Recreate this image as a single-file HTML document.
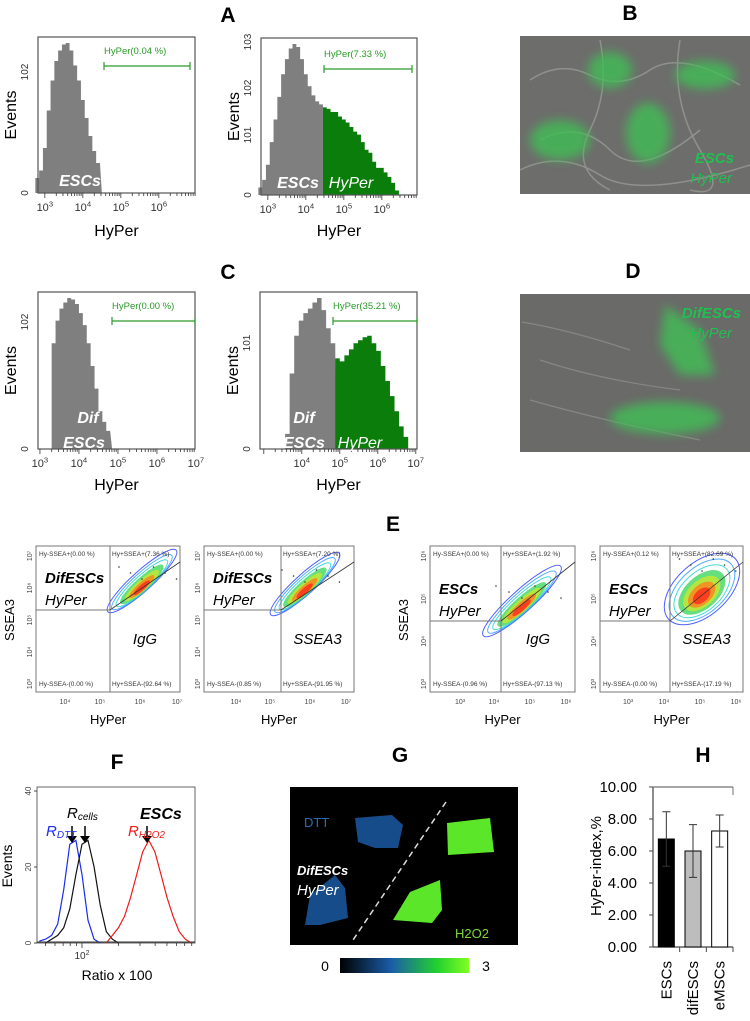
<!DOCTYPE html>
<html><head><meta charset="utf-8">
<style>
html,body{margin:0;padding:0;background:#fff;}
svg{display:block;font-family:"Liberation Sans",sans-serif;}
</style></head>
<body>
<svg id="fig" width="750" height="1021" viewBox="0 0 750 1021" xmlns="http://www.w3.org/2000/svg">
<defs>
<filter id="blur4"><feGaussianBlur stdDeviation="5"/></filter>
<linearGradient id="cbar" x1="0" x2="1" y1="0" y2="0">
<stop offset="0" stop-color="#000"/><stop offset="0.4" stop-color="#1a5ea8"/><stop offset="0.75" stop-color="#22d030"/><stop offset="1" stop-color="#80ff20"/>
</linearGradient>
</defs>

<g font-weight="bold" font-size="21" text-anchor="middle" fill="#000">
<text x="228" y="22">A</text>
<text x="630" y="20">B</text>
<text x="228" y="279">C</text>
<text x="633" y="278">D</text>
<text x="393" y="531">E</text>
<text x="117" y="769">F</text>
<text x="400" y="762">G</text>
<text x="703" y="762">H</text>
</g>

<g id="hists"></g>

<g>
<rect x="520" y="36" width="230" height="158" fill="#6d6d6b"/>
<g stroke="#a0a09c" stroke-width="1.5" fill="none" opacity="0.7">
<path d="M530 80 Q560 60 590 75 T650 70 T740 85"/><path d="M540 140 Q580 120 610 150 T700 130"/>
<path d="M600 40 Q610 90 590 130 T610 190"/><path d="M680 40 Q670 100 700 150 T690 190"/>
<path d="M520 170 Q560 150 600 175 T750 165"/>
</g>
<g fill="#3fbe55" filter="url(#blur4)" opacity="0.8">
<ellipse cx="610" cy="70" rx="22" ry="18"/><ellipse cx="705" cy="75" rx="30" ry="14"/>
<ellipse cx="560" cy="140" rx="30" ry="20"/><ellipse cx="648" cy="133" rx="22" ry="30"/>
</g>
<text x="734" y="163" fill="#1fc050" font-size="15" font-weight="bold" font-style="italic" text-anchor="end">ESCs</text>
<text x="732" y="183" fill="#1fc050" font-size="15" font-style="italic" text-anchor="end">HyPer</text>
</g>

<g>
<rect x="520" y="294" width="230" height="158" fill="#6a6a68"/>
<g stroke="#8e8e8a" stroke-width="1.2" fill="none" opacity="0.8">
<path d="M522 322 Q570 330 630 350"/><path d="M540 360 Q600 380 680 390"/><path d="M530 400 Q600 420 700 440"/>
</g>
<g fill="#3fc055" filter="url(#blur4)" opacity="0.8">
<path d="M665 305 L700 330 L715 375 L680 375 L660 345 Z"/>
<ellipse cx="665" cy="418" rx="55" ry="16"/>
</g>
<text x="741" y="318" fill="#1fc050" font-size="15" font-weight="bold" font-style="italic" text-anchor="end">DifESCs</text>
<text x="732" y="338" fill="#1fc050" font-size="15" font-style="italic" text-anchor="end">HyPer</text>
</g>

<g id="scatters"></g>
<g id="panelF"></g>

<g>
<rect x="290" y="787" width="228" height="158" fill="#000"/>
<path d="M355 818 L392 815 L403 825 L398 848 L375 848 L358 842 Z" fill="#174c8a"/>
<path d="M305 925 L310 895 L335 875 L345 888 L348 918 L320 925 Z" fill="#174c8a"/>
<path d="M447 823 L490 818 L494 852 L448 855 Z" fill="#5ce62a"/>
<path d="M393 920 L410 892 L440 880 L442 910 L432 923 Z" fill="#5ce62a"/>
<line x1="446" y1="802" x2="353" y2="940" stroke="#ddd" stroke-width="1.5" stroke-dasharray="6,4"/>
<text x="304" y="827" fill="#2f6bb5" font-size="13">DTT</text>
<text x="297" y="875" fill="#fff" font-size="13" font-weight="bold" font-style="italic">DifESCs</text>
<text x="297" y="895" fill="#fff" font-size="15" font-style="italic">HyPer</text>
<text x="455" y="938" fill="#7cd83a" font-size="13">H2O2</text>
<rect x="340" y="958" width="129" height="15" fill="url(#cbar)"/>
<text x="325" y="971" font-size="14" text-anchor="middle">0</text>
<text x="486" y="971" font-size="14" text-anchor="middle">3</text>
</g>

<g id="panelH"></g>
</svg>

<script>
const aLeftHeights = [0.1,0.15,0.3,0.55,0.75,0.88,0.95,0.99,1.0,0.95,0.85,0.75,0.62,0.5,0.38,0.28,0.2,0.1,0.02,0];
const aRightHeights = [0.05,0.1,0.2,0.35,0.5,0.65,0.8,0.9,0.97,1.0,0.98,0.9,0.8,0.72,0.66,0.62,0.6,0.58,0.57,0.55,0.55,0.52,0.5,0.48,0.45,0.42,0.4,0.35,0.3,0.28,0.22,0.18,0.18,0.15,0.12,0.08,0.03,0];
const cLeftHeights = [0,0.7,0.85,0.93,0.97,1.0,0.99,0.96,0.9,0.82,0.7,0.55,0.4,0.25,0.18,0.12,0];
const cRightHeights = [0,0.1,0.5,0.75,0.85,0.9,0.93,0.97,1.0,0.92,0.8,0.7,0.6,0.58,0.62,0.66,0.7,0.72,0.74,0.75,0.7,0.65,0.55,0.45,0.35,0.25,0.15,0.08,0];
const NS='http://www.w3.org/2000/svg';
function mk(tag,attrs,parent){const e=document.createElementNS(NS,tag);for(const k in attrs)e.setAttribute(k,attrs[k]);parent.appendChild(e);return e;}
function txt(s,attrs,parent){const e=mk('text',attrs,parent);e.textContent=s;return e;}
function pow(base,exp,x,y,parent,size){const t=mk('text',{x:x,y:y,'font-size':size,'text-anchor':'middle',fill:'#333'},parent);
  const a=document.createElementNS(NS,'tspan');a.textContent=base;t.appendChild(a);
  const b=document.createElementNS(NS,'tspan');b.setAttribute('dy',-size*0.4);b.setAttribute('font-size',size*0.7);b.textContent=exp;t.appendChild(b);return t;}

const hists=[
 {name:'a-left',x0:38,x1:195,y0:37,y1:193,logMin:2.82,dec:38,start:2.8,step:0.1,h:aLeftHeights,thr:4.5,gate:'HyPer(0.04 %)',gx:104,gy:66,gx2:190,ticks:[3,4,5,6],labels:[['ESCs',80,186]],labelsG:[],xl:236,yt:[['0',193],['10','2',72]]},
 {name:'a-right',x0:261,x1:417,y0:38,y1:195,logMin:2.82,dec:38,start:2.8,step:0.1,h:aRightHeights,thr:4.45,gate:'HyPer(7.33 %)',gx:324,gy:69,gx2:412,ticks:[3,4,5,6],labels:[['ESCs',298,188]],labelsG:[['HyPer',351,188]],xl:236,yt:[['0',195],['10','1',135],['10','2',88],['10','3',42]]},
 {name:'c-left',x0:38,x1:195,y0:292,y1:449,logMin:2.95,dec:39,start:3.25,step:0.1,h:cLeftHeights,thr:4.85,gate:'HyPer(0.00 %)',gx:112,gy:321,gx2:195,ticks:[3,4,5,6,7],labels:[['Dif',88,423],['ESCs',84,448]],labelsG:[],xl:490,yt:[['0',449],['10','2',322]]},
 {name:'c-right',x0:260,x1:417,y0:292,y1:449,logMin:2.9,dec:38,start:3.5,step:0.12,h:cRightHeights,thr:4.9,gate:'HyPer(35.21 %)',gx:333,gy:321,gx2:417,ticks:[4,5,6,7],labels:[['Dif',304,423],['ESCs',304,448]],labelsG:[['HyPer',360,448]],xl:490,yt:[['0',449],['10','1',343]]}
];
const H=document.getElementById('hists');
hists.forEach(p=>{
 const g=mk('g',{},H);
 
 
 const xs=l=>p.x0+(l-p.logMin)*p.dec;
 const ys=v=>p.y1-v*(p.y1-p.y0-6);
 let grey='M'+xs(p.start-p.step/2)+' '+p.y1;
 let gpts=[];
 p.h.forEach((v,i)=>{const l=p.start+i*p.step;const a=xs(l-p.step/2),b=xs(l+p.step/2);
   if(l<p.thr){grey+=' L'+a+' '+ys(v)+' L'+b+' '+ys(v);}
   else{gpts.push([a,b,ys(v)]);}});
 const lastGrey=Math.min(xs(p.thr),xs(p.start+p.h.length*p.step));
 grey+=' L'+lastGrey+' '+p.y1+' Z';
 const gp=mk('path',{d:grey,fill:'#7f7f7f'},g);
 
 
 if(gpts.length && p.labelsG.length){
   let d='M'+gpts[0][0]+' '+p.y1;gpts.forEach(q=>{d+=' L'+q[0]+' '+q[2]+' L'+q[1]+' '+q[2];});d+=' L'+gpts[gpts.length-1][1]+' '+p.y1+' Z';
   const gr=mk('path',{d:d,fill:'#0a7d0a'},g);
   
   
 }
 mk('rect',{x:p.x0,y:p.y0,width:p.x1-p.x0,height:p.y1-p.y0,fill:'none',stroke:'#555','stroke-width':1.2},g);
 for(let d=Math.ceil(p.logMin);d<=7;d++){for(let k=1;k<10;k++){const x=xs(d+Math.log10(k));if(x>p.x1+0.5)break;if(x<p.x0)continue;mk('line',{x1:x,x2:x,y1:p.y1,y2:p.y1+(k==1?5:3),stroke:'#333','stroke-width':0.8},g);}}
 p.ticks.forEach(t=>pow('10',String(t),xs(t),p.y1+18,g,11));
 p.yt.forEach(t=>{const tt=t.length==2?t[0]:t[0]+t[1];txt(tt,{x:p.x0-10,y:t[t.length-1],'font-size':10,fill:'#333','text-anchor':'middle',transform:'rotate(-90 '+(p.x0-10)+' '+t[t.length-1]+')'},g);});
 txt('Events',{x:p.x0-22,y:(p.y0+p.y1)/2,'font-size':16,'text-anchor':'middle',transform:'rotate(-90 '+(p.x0-22)+' '+((p.y0+p.y1)/2)+')'},g);
 txt('HyPer',{x:(p.x0+p.x1)/2,y:p.xl,'font-size':16,'text-anchor':'middle'},g);
 txt(p.gate,{x:p.gx,y:p.gy-12,'font-size':9.5,fill:'#2a9a2a'},g);
 mk('path',{d:'M'+p.gx+' '+(p.gy-4)+' V'+(p.gy+4)+' M'+p.gx+' '+p.gy+' H'+p.gx2+' M'+p.gx2+' '+(p.gy-4)+' V'+(p.gy+4),stroke:'#2a9a2a','stroke-width':1.2,fill:'none'},g);
 p.labels.forEach(l=>txt(l[0],{x:l[1],y:l[2],'font-size':16,'font-weight':'bold','font-style':'italic',fill:'#fff','text-anchor':'middle'},g));
 p.labelsG.forEach(l=>txt(l[0],{x:l[1],y:l[2],'font-size':16,'font-style':'italic',fill:'#fff','text-anchor':'middle'},g));
});

const S=document.getElementById('scatters');
const scat=[
 {x0:36,x1:180,vx:110,hy:610,cx:142,cy:581,len:46,w:10,tl:'Hy-SSEA+(0.00 %)',tr:'Hy+SSEA+(7.36 %)',bl:'Hy-SSEA-(0.00 %)',br:'Hy+SSEA-(92.64 %)',c1:'DifESCs',lab:'IgG',ax:true,xt:['10⁴','10⁵','10⁶','10⁷'],xtx:[65,100,140,177],yt:['10⁷','10⁶','10⁵','10⁴','10³']},
 {x0:204,x1:354,vx:281,hy:610,cx:305,cy:584,len:46,w:10,tl:'Hy-SSEA+(0.00 %)',tr:'Hy+SSEA+(7.20 %)',bl:'Hy-SSEA-(0.85 %)',br:'Hy+SSEA-(91.95 %)',c1:'DifESCs',lab:'SSEA3',ax:false,xt:['10⁴','10⁵','10⁶','10⁷'],xtx:[236,270,310,346],yt:['10⁷','10⁶','10⁵','10⁴','10³']},
 {x0:430,x1:575,vx:501,hy:621,cx:522,cy:601,len:52,w:11,tl:'Hy-SSEA+(0.00 %)',tr:'Hy+SSEA+(1.92 %)',bl:'Hy-SSEA-(0.96 %)',br:'Hy+SSEA-(97.13 %)',c1:'ESCs',lab:'IgG',ax:true,xt:['10³','10⁴','10⁵','10⁶'],xtx:[460,494,530,566],yt:['10⁶','10⁵','10⁴','10³']},
 {x0:600,x1:743,vx:670,hy:621,cx:702,cy:589,len:45,w:26,tl:'Hy-SSEA+(0.12 %)',tr:'Hy+SSEA+(82.69 %)',bl:'Hy-SSEA-(0.00 %)',br:'Hy+SSEA-(17.19 %)',c1:'ESCs',lab:'SSEA3',ax:false,xt:['10³','10⁴','10⁵','10⁶'],xtx:[628,664,700,736],yt:['10⁶','10⁵','10⁴','10³']}
];
const cols=['#3a4cff','#3aa0ff','#30d8d0','#40d860','#c8e830','#ff8020','#ff2a1a'];
scat.forEach((p,i)=>{
 const g=mk('g',{},S);
 
 
 const y0=546,y1=692;
 mk('rect',{x:p.x0,y:y0,width:p.x1-p.x0,height:y1-y0,fill:'#fff',stroke:'#777','stroke-width':1},g);
 cols.forEach((c,k)=>{const s=1-k*0.13;const filled=k>=3;mk('ellipse',{cx:p.cx-k*0.8,cy:p.cy+k*0.8,rx:p.len*s,ry:p.w*s,fill:filled?c:'none',stroke:c,'stroke-width':1,opacity:filled?0.8:0.9,transform:'rotate(-42 '+p.cx+' '+p.cy+')'},g);});
 for(let k=0;k<6;k++){mk('circle',{cx:p.cx-p.len*0.5+k*p.len*0.25,cy:p.cy-p.w-4+(k%3)*6,r:0.8,fill:'#333'},g);}
 mk('line',{x1:p.vx,y1:y0,x2:p.vx,y2:y1,stroke:'#777','stroke-width':1},g);
 mk('line',{x1:p.x0,y1:p.hy,x2:p.vx,y2:p.hy,stroke:'#777','stroke-width':1},g);
 mk('line',{x1:p.vx,y1:p.hy,x2:p.x1,y2:y0+16,stroke:'#333','stroke-width':0.8},g);
 txt(p.tl,{x:p.x0+3,y:y0+10,'font-size':6.5,fill:'#333'},g);
 txt(p.tr,{x:p.vx+2,y:y0+10,'font-size':6.5,fill:'#333'},g);
 txt(p.bl,{x:p.x0+3,y:y1-6,'font-size':6.5,fill:'#333'},g);
 txt(p.br,{x:p.vx+2,y:y1-6,'font-size':6.5,fill:'#333'},g);
 txt(p.c1,{x:p.x0+9,y:p.hy-27,'font-size':15,'font-weight':'bold','font-style':'italic'},g);
 txt('HyPer',{x:p.x0+9,y:p.hy-5,'font-size':15,'font-style':'italic'},g);
 txt(p.lab,{x:(p.vx+p.x1)/2,y:644,'font-size':15,'font-style':'italic','text-anchor':'middle'},g);
 p.xt.forEach((t,k)=>txt(t,{x:p.xtx[k],y:704,'font-size':7,'text-anchor':'middle',fill:'#444'},g));
 p.yt.forEach((t,k)=>{const yy=y0+10+k*(y1-y0-18)/(p.yt.length-1);txt(t,{x:p.x0-4,y:yy,'font-size':7,'text-anchor':'middle',fill:'#444',transform:'rotate(-90 '+(p.x0-4)+' '+yy+')'},g);});
 txt('HyPer',{x:(p.x0+p.x1)/2,y:724,'font-size':13,'text-anchor':'middle'},g);
 if(p.ax){const xx=p.x0-22;txt('SSEA3',{x:xx,y:620,'font-size':13,'text-anchor':'middle',transform:'rotate(-90 '+xx+' 620)'},g);}
});

const blueLogs=[1.65,1.7,1.75,1.8,1.85,1.9,1.95,2.0,2.05,2.1,2.15];
const blueCounts=[0.5,1,2,5,14,26,27,18,6,1,0];
const blackLogs=[1.7,1.75,1.8,1.85,1.9,1.95,2.0,2.05,2.1,2.15,2.2,2.25,2.3];
const blackCounts=[0,1,2,4,9,18,26,27,20,10,3,1,0];
const redLogs=[2.2,2.25,2.3,2.35,2.4,2.45,2.5,2.55,2.6,2.65,2.7,2.75,2.8,2.85,2.9];
const redCounts=[0,2,4,7,12,18,24,27,24,18,12,7,3,1,0];
const fYTicks=[0,20,40];
(function(){
 const g=document.getElementById('panelF');
 const X0=37,X1=195,Y0=787,Y1=943;
 const xs=l=>X0+(l-1.63)*(X1-X0)/1.3;
 const ys=v=>Y1-v/40*(Y1-Y0-4);
 mk('rect',{x:X0,y:Y0,width:X1-X0,height:Y1-Y0,fill:'none',stroke:'#666','stroke-width':1},g);
 fYTicks.forEach(t=>{txt(String(t),{x:X0-6,y:ys(t),'font-size':8,'text-anchor':'middle',fill:'#444',transform:'rotate(-90 '+(X0-6)+' '+ys(t)+')'},g);mk('line',{x1:X0-3,x2:X0,y1:ys(t),y2:ys(t),stroke:'#444'},g);});
 for(let d=1;d<=3;d++){for(let k=1;k<10;k++){const x=xs(d+Math.log10(k));if(x<X0||x>X1)continue;mk('line',{x1:x,x2:x,y1:Y1,y2:Y1+(k==1?5:3),stroke:'#333','stroke-width':0.8},g);}}
 pow('10','2',xs(2),Y1+16,g,10);
 [[blueLogs,blueCounts,'#1a2cf0','curve-dtt'],[blackLogs,blackCounts,'#111','curve-cells'],[redLogs,redCounts,'#f01a1a','curve-h2o2']].forEach(s=>{
   const pts=s[0].map((l,i)=>xs(l).toFixed(1)+','+ys(s[1][i]).toFixed(1)).join(' ');
   const pl=mk('polyline',{points:pts,fill:'none',stroke:s[2],'stroke-width':1.2},g);
   
   
 });
 mk('line',{x1:X0,x2:X1,y1:Y1-1,y2:Y1-1,stroke:'#333','stroke-width':1},g);
 txt('Events',{x:12,y:866,'font-size':14,'text-anchor':'middle',transform:'rotate(-90 12 866)'},g);
 txt('Ratio x 100',{x:117,y:980,'font-size':14,'text-anchor':'middle'},g);
 [[72,826,843],[85,826,843],[147,826,843]].forEach(a=>{mk('line',{x1:a[0],x2:a[0],y1:a[1],y2:a[2]-6,stroke:'#000','stroke-width':1.5},g);mk('path',{d:'M'+(a[0]-5)+' '+(a[2]-7)+' L'+(a[0]+5)+' '+(a[2]-7)+' L'+a[0]+' '+a[2]+' Z',fill:'#000'},g);});
 const t1=txt('R',{x:67,y:818,'font-size':15,'font-style':'italic'},g);
 const s1=document.createElementNS(NS,'tspan');s1.setAttribute('font-size','10');s1.setAttribute('dy','2');s1.textContent='cells';t1.appendChild(s1);
 const t2=txt('R',{x:46,y:836,'font-size':15,'font-style':'italic',fill:'#1a2cf0'},g);
 const s2=document.createElementNS(NS,'tspan');s2.setAttribute('font-size','10');s2.setAttribute('dy','2');s2.textContent='DTT';t2.appendChild(s2);
 const t3=txt('R',{x:128,y:836,'font-size':15,'font-style':'italic',fill:'#f01a1a'},g);
 const s3=document.createElementNS(NS,'tspan');s3.setAttribute('font-size','10');s3.setAttribute('dy','2');s3.textContent='H2O2';t3.appendChild(s3);
 txt('ESCs',{x:140,y:819,'font-size':16,'font-weight':'bold','font-style':'italic'},g);
})();

const hCategories=['ESCs','difESCs','eMSCs'];
const hValues=[6.75,6.0,7.25];
const hErrors=[1.7,1.65,1.0];
const hTicks=['0.00','2.00','4.00','6.00','8.00','10.00'];
(function(){
 const g=document.getElementById('panelH');
 const X0=653,X1=733,Y0=787,Y1=947;
 const ys=v=>Y1-v/10*(Y1-Y0);
 const fills=['#000','#bdbdbd','#fff'];
 mk('line',{x1:X0,x2:X0,y1:Y0,y2:Y1,stroke:'#444','stroke-width':1.2},g);
 mk('line',{x1:X0,x2:X1,y1:Y0,y2:Y0,stroke:'#888','stroke-width':1.5},g);
 mk('line',{x1:X1,x2:X1,y1:Y0,y2:Y0+8,stroke:'#888','stroke-width':1.2},g);
 mk('line',{x1:X0,x2:X1,y1:Y1,y2:Y1,stroke:'#444','stroke-width':1.2},g);
 hTicks.forEach(t=>{const v=parseFloat(t);mk('line',{x1:X0-4,x2:X0,y1:ys(v),y2:ys(v),stroke:'#444'},g);txt(t,{x:637,y:ys(v)+5,'font-size':15,'text-anchor':'end'},g);});
 const bw=(X1-X0)/hCategories.length;
 hCategories.forEach((c,i)=>{
   const cx=X0+bw*(i+0.5);
   const r=mk('rect',{x:cx-8,y:ys(hValues[i]),width:16,height:Y1-ys(hValues[i]),fill:fills[i],stroke:'#000','stroke-width':1},g);
   
   
   const hi=ys(hValues[i]+hErrors[i]),lo=ys(hValues[i]-hErrors[i]);
   mk('path',{d:'M'+cx+' '+hi+' V'+lo+' M'+(cx-4)+' '+hi+' H'+(cx+4)+' M'+(cx-4)+' '+lo+' H'+(cx+4),stroke:'#333','stroke-width':1,fill:'none'},g);
   if(i>0)mk('line',{x1:X0+bw*i,x2:X0+bw*i,y1:Y1,y2:Y1+5,stroke:'#444'},g);
   txt(c,{x:cx+5,y:Y1+14,'font-size':15,'text-anchor':'end',transform:'rotate(-90 '+(cx+5)+' '+(Y1+14)+')'},g);
 });
 mk('line',{x1:X1,x2:X1,y1:Y1,y2:Y1+5,stroke:'#444'},g);
 txt('HyPer-index,%',{x:601,y:866,'font-size':15,'text-anchor':'middle',transform:'rotate(-90 601 866)'},g);
})();
</script>
</body></html>
